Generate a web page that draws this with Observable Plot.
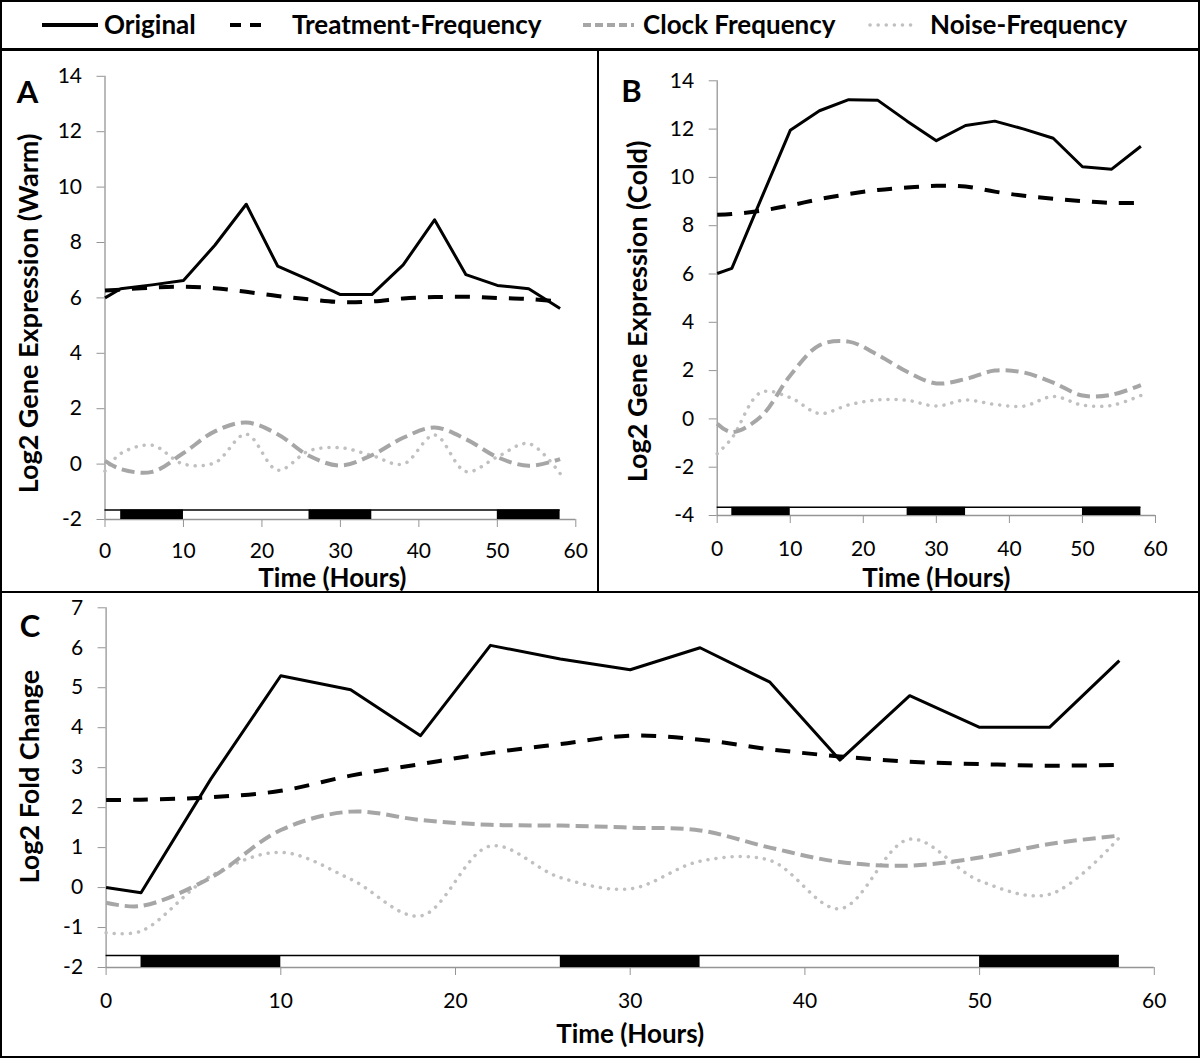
<!DOCTYPE html>
<html>
<head>
<meta charset="utf-8">
<script src="https://cdn.jsdelivr.net/npm/d3@7"></script>
<script src="https://cdn.jsdelivr.net/npm/@observablehq/plot@0.6"></script>
<style>
  html, body { margin: 0; padding: 0; background: #fff; }
  #wrap { position: relative; width: 1200px; height: 1058px; background: #fff; overflow: hidden; font-family: Lato, "Open Sans", sans-serif; }
  #wrap > svg, #wrap > .box { position: absolute; }
  .box { box-sizing: border-box; border: 2px solid #000; pointer-events: none; }
</style>
</head>
<body>
<div id="wrap"></div>
<script>
// ---------------- data ----------------
const time = [0, 2, 6, 10, 14, 18, 22, 26, 30, 34, 38, 42, 46, 50, 54, 58];
const seriesNames = ["Original", "Treatment-Frequency", "Clock Frequency", "Noise-Frequency"];

// Panel A (Warm)
const originalA  = [6.0, 6.33, 6.47, 6.63, 7.9, 9.38, 7.15, 6.65, 6.12, 6.12, 7.19, 8.82, 6.84, 6.45, 6.33, 5.62];
const treatmentA = [6.27, 6.3, 6.37, 6.4, 6.35, 6.22, 6.07, 5.95, 5.85, 5.87, 5.98, 6.03, 6.04, 6.0, 5.96, 5.87];
const clockA     = [0.12, -0.18, -0.28, 0.4, 1.18, 1.5, 1.08, 0.3, -0.05, 0.32, 0.95, 1.32, 0.9, 0.25, -0.06, 0.18];
const noiseA     = [-0.25, 0.38, 0.68, 0.0, 0.05, 1.08, -0.22, 0.48, 0.59, 0.31, 0.0, 1.05, -0.27, 0.26, 0.74, -0.34];

// Panel B (Cold)
const originalB  = [6.02, 6.23, 9.1, 11.95, 12.76, 13.22, 13.19, 12.33, 11.52, 12.15, 12.33, 12.0, 11.62, 10.44, 10.34, 11.29];
const treatmentB = [8.45, 8.48, 8.62, 8.84, 9.1, 9.31, 9.48, 9.58, 9.65, 9.62, 9.41, 9.24, 9.12, 9.02, 8.94, 8.95];
const clockB     = [-0.2, -0.55, 0.1, 1.8, 3.05, 3.2, 2.65, 1.95, 1.47, 1.65, 2.0, 1.92, 1.5, 0.97, 1.0, 1.4];
const noiseB     = [-1.44, -0.8, 1.1, 0.88, 0.22, 0.58, 0.79, 0.77, 0.53, 0.78, 0.6, 0.53, 0.93, 0.57, 0.56, 0.97];

// Panel C (Log2 fold change)
const originalC  = [0.0, -0.13, 2.72, 5.3, 4.95, 3.8, 6.06, 5.72, 5.45, 6.0, 5.14, 3.19, 4.8, 4.01, 4.01, 5.68];
const treatmentC = [2.19, 2.2, 2.26, 2.42, 2.8, 3.09, 3.37, 3.59, 3.8, 3.7, 3.46, 3.28, 3.15, 3.09, 3.05, 3.07];
const clockC     = [-0.38, -0.46, 0.25, 1.44, 1.9, 1.69, 1.57, 1.55, 1.5, 1.43, 1.0, 0.64, 0.55, 0.75, 1.09, 1.3];
const noiseC     = [-1.13, -1.09, 0.29, 0.88, 0.21, -0.71, 1.04, 0.25, -0.03, 0.66, 0.68, -0.53, 1.21, 0.17, -0.17, 1.25];

// dark periods (light/dark bar under the curves)
const darkStart = [2, 26, 50];
const darkEnd   = [10, 34, 58];

// ticks and labels
const xTicks  = [0, 10, 20, 30, 40, 50, 60];
const yTicksA = [-2, 0, 2, 4, 6, 8, 10, 12, 14];
const yTicksB = [-4, -2, 0, 2, 4, 6, 8, 10, 12, 14];
const yTicksC = [-2, -1, 0, 1, 2, 3, 4, 5, 6, 7];
const xLabel = "Time (Hours)";
const yLabelA = "Log2 Gene Expression (Warm)";
const yLabelB = "Log2 Gene Expression (Cold)";
const yLabelC = "Log2 Fold Change";
const panelLetters = ["A", "B", "C"];

// ---------------- styles ----------------
const FONT = "Lato, 'Open Sans', sans-serif";
const AXIS_GRAY = "#959595";
const seriesStyle = {
  "Original":            {stroke: "#000", strokeWidth: 3, curve: "linear"},
  "Treatment-Frequency": {stroke: "#000", strokeWidth: 4, strokeDasharray: "15,12", curve: "catmull-rom"},
  "Clock Frequency":     {stroke: "#a6a6a6", strokeWidth: 4, strokeDasharray: "13,6", curve: "catmull-rom"},
  "Noise-Frequency":     {stroke: "#c0c0c0", strokeWidth: 3.5, strokeDasharray: "0.1,8", strokeLinecap: "round", curve: "catmull-rom"}
};
const fmt = d => String(d); // hyphen-minus like the original

function longData(arrs) {
  const rows = [];
  seriesNames.forEach((name, k) => {
    arrs[k].forEach((v, i) => rows.push({series: name, t: time[i], v}));
  });
  return rows;
}

const darkData = darkStart.map((s, i) => ({s, e: darkEnd[i]}));

function makePanel(cfg) {
  const data = longData(cfg.series);
  const yMin = cfg.yTicks[0], yMax = cfg.yTicks[cfg.yTicks.length - 1];
  const drawOrder = [3, 2, 1, 0];
  const lineMarks = drawOrder.map(k => {
    const name = seriesNames[k];
    const st = seriesStyle[name];
    return Plot.line(data.filter(d => d.series === name), {
      x: "t", y: "v", stroke: st.stroke, strokeWidth: st.strokeWidth,
      strokeDasharray: st.strokeDasharray, strokeLinecap: st.strokeLinecap || "butt",
      strokeLinejoin: "round", curve: st.curve
    });
  });
  return Plot.plot({
    width: cfg.width, height: cfg.height,
    marginLeft: cfg.ml, marginRight: cfg.mr, marginTop: cfg.mt, marginBottom: cfg.mb,
    style: {fontFamily: FONT, background: "transparent", color: "#000"},
    x: {domain: [0, 60]},
    y: {domain: [yMin, yMax]},
    marks: [
      Plot.ruleX([0], {y1: yMin, y2: yMax, stroke: AXIS_GRAY, strokeWidth: 1.3}),
      Plot.ruleY([yMin], {x1: 0, x2: 60, stroke: AXIS_GRAY, strokeWidth: 1.3}),
      Plot.axisX({ticks: xTicks, tickFormat: fmt, tickSize: 8, tickPadding: cfg.xPad, stroke: AXIS_GRAY, fill: "#000",
                  fontSize: 21, fontFamily: FONT, label: null}),
      Plot.axisY({ticks: cfg.yTicks, tickFormat: fmt, tickSize: 8, tickPadding: 15, stroke: AXIS_GRAY, fill: "#000",
                  fontSize: 21, fontFamily: FONT, label: null}),
      // light/dark bar
      Plot.ruleY([cfg.bandTop], {x1: 0, x2: 58, stroke: "#000", strokeWidth: 1.5}),
      Plot.rect(darkData, {x1: "s", x2: "e", y1: yMin, y2: cfg.bandTop, fill: "#000"}),
      ...lineMarks,
      // axis titles and panel letter
      Plot.text([cfg.yLabel], {frameAnchor: "left", textAnchor: "middle", lineAnchor: "middle", rotate: -90,
                 dx: cfg.yTitleDx, dy: cfg.yTitleDy,
                 fontSize: 27, fontWeight: "bold", fontFamily: FONT, fill: "#000"}),
      Plot.text([xLabel], {frameAnchor: "bottom", textAnchor: "middle", lineAnchor: "middle",
                 dx: cfg.xTitleDx, dy: cfg.xTitleDy,
                 fontSize: 26, fontWeight: "bold", fontFamily: FONT, fill: "#000"}),
      Plot.text([cfg.letter], {frameAnchor: "top-left", textAnchor: "middle", lineAnchor: "middle",
                 dx: cfg.letterDx, dy: cfg.letterDy,
                 fontSize: 31, fontWeight: "bold", fontFamily: FONT, fill: "#000"})
    ]
  });
}

const wrap = document.getElementById("wrap");

const panels = [
  {letter: panelLetters[0], left: 0, top: 50, width: 598, height: 542, ml: 104.5, mr: 22.7, mt: 25.8, mb: 73,
   yTicks: yTicksA, series: [originalA, treatmentA, clockA, noiseA], bandTop: -1.655, yLabel: yLabelA,
   xPad: 16, yTitleDx: -75.5, yTitleDy: 15.6, xTitleDx: -8, xTitleDy: 59, letterDx: -77.5, letterDy: 17},
  {letter: panelLetters[1], left: 598, top: 50, width: 602, height: 542, ml: 118.7, mr: 45, mt: 30.3, mb: 77,
   yTicks: yTicksB, series: [originalB, treatmentB, clockB, noiseB], bandTop: -3.66, yLabel: yLabelB,
   xPad: 18, yTitleDx: -78.7, yTitleDy: 13.3, xTitleDx: 0, xTitleDy: 63, letterDx: -85.7, letterDy: 11.7},
  {letter: panelLetters[2], left: 0, top: 592, width: 1200, height: 466, ml: 105.6, mr: 46.2, mt: 15.3, mb: 91,
   yTicks: yTicksC, series: [originalC, treatmentC, clockC, noiseC], bandTop: -1.70, yLabel: yLabelC,
   xPad: 18, yTitleDx: -75.6, yTitleDy: -11, xTitleDx: 0, xTitleDy: 67, letterDx: -76, letterDy: 19}
];

panels.forEach(cfg => {
  const svg = makePanel(cfg);
  svg.style.left = cfg.left + "px";
  svg.style.top = cfg.top + "px";
  wrap.appendChild(svg);
});

// ---------------- legend ----------------
const legendLine = [[42, 98], [230, 270], [583, 634], [870, 918]];
const legendTextX = [104, 292, 643, 930];
const legendDash = {
  "Original": null,
  "Treatment-Frequency": "11,9",
  "Clock Frequency": "8,4",
  "Noise-Frequency": "0.1,8"
};
const leg = d3.create("svg").attr("width", 1200).attr("height", 50)
  .style("left", "0px").style("top", "0px").style("font-family", FONT);
seriesNames.forEach((name, k) => {
  const st = seriesStyle[name];
  leg.append("line")
    .attr("x1", legendLine[k][0]).attr("x2", legendLine[k][1])
    .attr("y1", 25).attr("y2", 25)
    .attr("stroke", st.stroke).attr("stroke-width", name === "Noise-Frequency" ? 3.5 : 4)
    .attr("stroke-dasharray", legendDash[name])
    .attr("stroke-linecap", name === "Noise-Frequency" ? "round" : "butt");
  leg.append("text")
    .attr("x", legendTextX[k]).attr("y", 25).attr("dy", "0.35em")
    .attr("font-size", 26).attr("font-weight", "bold").attr("fill", "#000")
    .text(name);
});
wrap.appendChild(leg.node());

// ---------------- frames ----------------
const boxes = [
  [0, 0, 1200, 50],
  [0, 49, 599, 544],
  [597, 49, 603, 544],
  [0, 591, 1200, 467]
];
boxes.forEach(([l, t, w, h]) => {
  const b = document.createElement("div");
  b.className = "box";
  b.style.left = l + "px"; b.style.top = t + "px";
  b.style.width = w + "px"; b.style.height = h + "px";
  wrap.appendChild(b);
});
</script>
</body>
</html>
